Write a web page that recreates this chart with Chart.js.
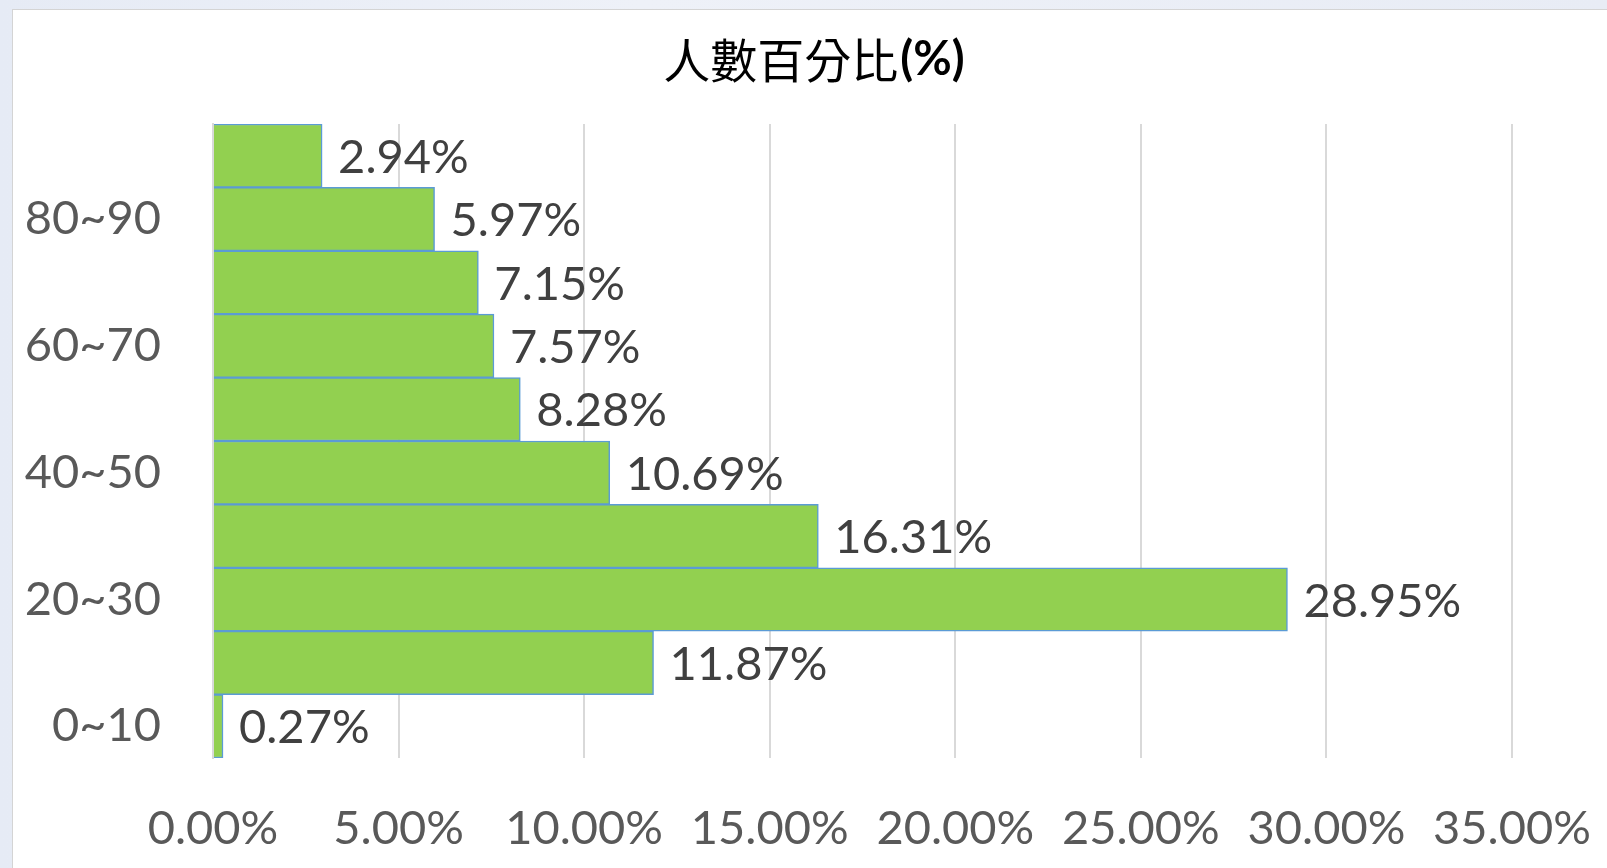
<!DOCTYPE html>
<html>
<head>
<meta charset="utf-8">
<script src="https://cdn.jsdelivr.net/npm/chart.js@4.4.1/dist/chart.umd.min.js"></script>
<style>
  html, body { margin: 0; padding: 0; }
  body { width: 1607px; height: 868px; background: linear-gradient(90deg, #e6ebf5, #eef1f8 40%, #e8ecf5); overflow: hidden; }
  #panel { position: absolute; left: 12px; top: 9px; width: 1594px; height: 858px; background: #fff; border-left: 1px solid #d4d4d4; border-top: 1px solid #d4d4d4; }
</style>
</head>
<body>
<div id="panel"><canvas id="ageChart"></canvas></div>
<script>
// age groups, bottom to top
var ageGroups = ['0~10', '10~20', '20~30', '30~40', '40~50', '50~60', '60~70', '70~80', '80~90', '90~100'];
var percentValues = [0.27, 11.87, 28.95, 16.31, 10.69, 8.28, 7.57, 7.15, 5.97, 2.94];
var xTicks = [0, 5, 10, 15, 20, 25, 30, 35];
var titleMain = '人數百分比';
var titleUnit = '(%)';

var valueLabels = {
    id: 'valueLabels',
    afterDatasetsDraw: function(chart) {
        var ctx = chart.ctx;
        var meta = chart.getDatasetMeta(0);
        ctx.save();
        ctx.font = '47px Lato';
        ctx.fillStyle = '#404040';
        ctx.textAlign = 'left';
        ctx.textBaseline = 'middle';
        meta.data.forEach(function(bar, i) {
            ctx.fillText(percentValues[i].toFixed(2) + '%', bar.x + 16, bar.y + 2);
        });
        ctx.restore();
    }
};

var mixedTitle = {
    id: 'mixedTitle',
    afterDraw: function(chart) {
        var ctx = chart.ctx;
        ctx.save();
        var f1 = '47px "Noto Sans CJK TC"';
        var f2 = 'bold 47px Lato';
        ctx.font = f1;
        var w1 = ctx.measureText(titleMain).width;
        ctx.font = f2;
        var w2 = ctx.measureText(titleUnit).width;
        var x0 = 800 - (w1 + w2) / 2;
        ctx.fillStyle = '#000';
        ctx.textBaseline = 'middle';
        ctx.textAlign = 'left';
        ctx.font = f1;
        ctx.fillText(titleMain, x0, 50);
        ctx.font = f2;
        ctx.fillText(titleUnit, x0 + w1 + 2, 50);
        ctx.restore();
    }
};

document.addEventListener('DOMContentLoaded', function() {
    var ctx = document.getElementById('ageChart').getContext('2d');
    new Chart(ctx, {
        type: 'bar',
        data: {
            labels: ageGroups,
            datasets: [{
                label: '人數百分比(%)',
                data: percentValues,
                backgroundColor: '#92D050',
                borderColor: '#5B9BD5',
                borderWidth: 1.5,
                barPercentage: 1,
                categoryPercentage: 1
            }]
        },
        options: {
            indexAxis: 'y',
            responsive: true,
            maintainAspectRatio: false,
            animation: false,
            layout: { padding: { top: 114, right: 95, left: 0, bottom: 0 } },
            plugins: {
                legend: { display: false },
                tooltip: { enabled: false },
                title: { display: false }
            },
            scales: {
                x: {
                    min: xTicks[0],
                    max: xTicks[xTicks.length - 1],
                    afterBuildTicks: function(scale) {
                        scale.ticks = xTicks.map(function(v) { return { value: v }; });
                    },
                    afterFit: function(scale) {
                        scale.height = 110;
                        scale.paddingLeft = 0;
                        scale.paddingRight = 0;
                    },
                    ticks: {
                        callback: function(v) { return Number(v).toFixed(2) + '%'; },
                        font: { family: 'Lato', size: 47 },
                        color: '#595959',
                        padding: 43,
                        maxRotation: 0
                    },
                    grid: { color: '#d9d9d9', lineWidth: 2, drawTicks: false },
                    border: { display: false }
                },
                y: {
                    reverse: true,
                    afterFit: function(scale) { scale.width = 200; },
                    ticks: {
                        autoSkip: false,
                        callback: function(v, i) { return i % 2 === 0 ? ageGroups[i] : ''; },
                        font: { family: 'Lato', size: 47 },
                        color: '#595959',
                        padding: 52
                    },
                    grid: { display: false, drawTicks: false },
                    border: { display: true, color: '#d9d9d9', width: 2 }
                }
            }
        },
        plugins: [valueLabels, mixedTitle]
    });
});
</script>
</body>
</html>
